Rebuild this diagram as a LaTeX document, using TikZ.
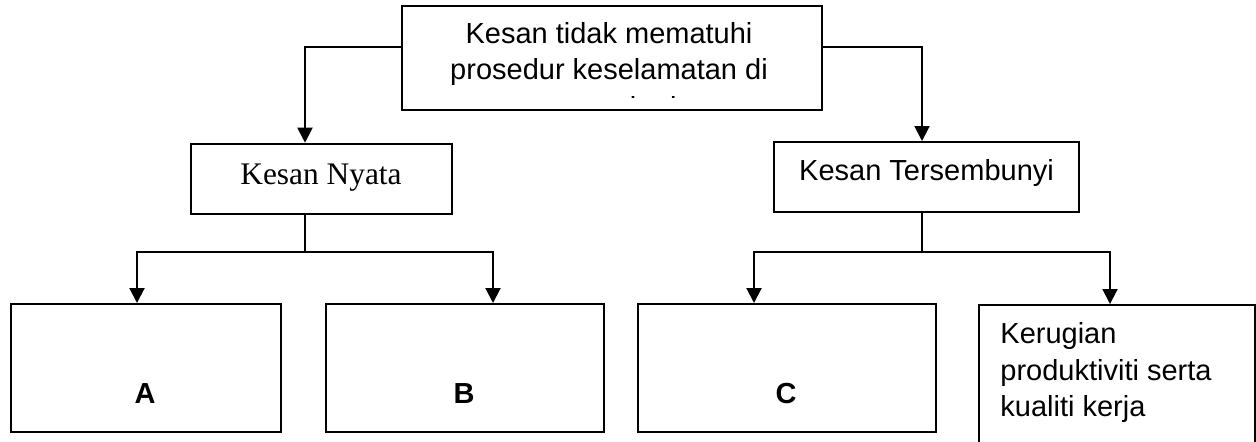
\documentclass[tikz,border=0pt]{standalone}
\usepackage{fontspec}
\setmainfont{Liberation Sans}
\newfontfamily\tnr{Liberation Serif}
\usetikzlibrary{arrows.meta}
\begin{document}
\begin{tikzpicture}[x=0.5pt,y=-0.5pt,
  box/.style={draw, line width=1pt, inner sep=0pt, anchor=north west},
  txt/.style={inner sep=0pt, anchor=base, font=\fontsize{14.5}{18}\selectfont},
  conn/.style={line width=1pt},
  arr/.style={line width=1pt, -{Triangle[length=7.5pt,width=7.5pt]}}]
\clip (0,0) rectangle (1256,441);
\fill[white] (0,0) rectangle (1256,441);
% boxes
\node[box, minimum width=210pt, minimum height=52pt] (top) at (400.7,5) {};
\node[box, minimum width=130.5pt, minimum height=35.3pt] (nyata) at (190,142.7) {};
\node[box, minimum width=152.5pt, minimum height=35pt] (ters) at (773,141) {};
\node[box, minimum width=135pt, minimum height=64pt] (boxA) at (10,303) {};
\node[box, minimum width=139pt, minimum height=64pt] (boxB) at (325,303) {};
\node[box, minimum width=149pt, minimum height=64pt] (boxC) at (637,303) {};
\node[box, minimum width=138pt, minimum height=80pt] (boxD) at (978,304) {};
% texts
\node[txt] (t1) at (609,43) {Kesan tidak mematuhi};
\node[txt] (t2) at (609,79) {prosedur keselamatan di};
\begin{scope}
\clip (400,20) rectangle (821,97.6);
\node[txt] (t3) at (613,117) {tempat kerja};
\end{scope}
\node[txt, font=\tnr\fontsize{15.7}{18}\selectfont] (nyataT) at (321,184) {Kesan Nyata};
\node[txt] (tersT) at (926.5,180) {Kesan Tersembunyi};
\node[txt, font=\bfseries\fontsize{14.5}{18}\selectfont] (labA) at (145,403) {A};
\node[txt, font=\bfseries\fontsize{14.5}{18}\selectfont] (labB) at (464,403) {B};
\node[txt, font=\bfseries\fontsize{14.5}{18}\selectfont] (labC) at (786,403) {C};
\node[txt, anchor=base west] (d1) at (1000,343) {Kerugian};
\node[txt, anchor=base west] (d2) at (1000,380) {produktiviti serta};
\node[txt, anchor=base west] (d3) at (1000,416) {kualiti kerja};
% junctions
\coordinate (jL) at (305,47);
\coordinate (jR) at (922,47);
\coordinate (bL) at (305,252);
\coordinate (bR) at (922,252);
\coordinate (aA) at (137,252);
\coordinate (aB) at (493,252);
\coordinate (aC) at (754,252);
\coordinate (aD) at (1110,252);
% connectors
\draw[arr] (top.west |- jL) -- (jL) -- (jL |- nyata.north);
\draw[arr] (top.east |- jR) -- (jR) -- (jR |- ters.north);
\draw[conn] (jL |- nyata.south) -- (bL);
\draw[conn] (jR |- ters.south) -- (bR);
\draw[arr] (bL) -- (aA) -- (aA |- boxA.north);
\draw[arr] (bL) -- (aB) -- (aB |- boxB.north);
\draw[arr] (bR) -- (aC) -- (aC |- boxC.north);
\draw[arr] (bR) -- (aD) -- (aD |- boxD.north);
\end{tikzpicture}
\end{document}
